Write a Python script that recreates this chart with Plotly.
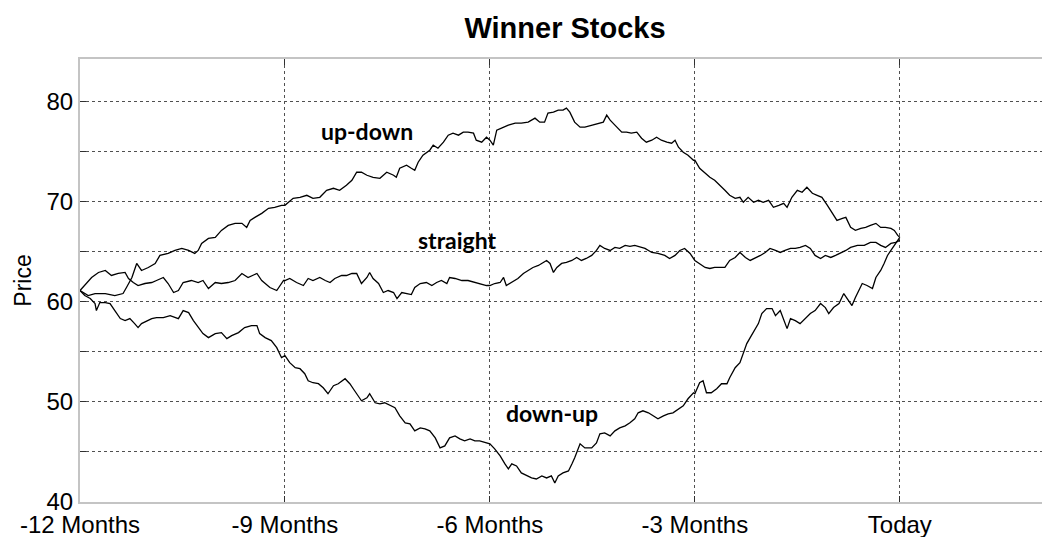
import plotly.graph_objects as go

# ===================================================================
# DATA (months relative to today)
# ===================================================================
updown_months = [
    -12.00, -11.88, -11.78, -11.63, -11.49, -11.37, -11.32, -11.24, -11.17, -11.10,
    -11.00, -10.90, -10.83, -10.71, -10.61, -10.51, -10.41, -10.32, -10.27, -10.22,
    -10.12, -10.02, -9.93, -9.83, -9.73, -9.63, -9.56, -9.51, -9.44, -9.34,
    -9.24, -9.15, -9.05,
    -9.00, -8.88, -8.78, -8.68, -8.59, -8.49, -8.39, -8.29, -8.20, -8.10,
    -8.02, -7.95, -7.88, -7.80, -7.71, -7.61, -7.51, -7.41, -7.37, -7.32,
    -7.22, -7.15, -7.10, -7.05, -6.98, -6.88, -6.83, -6.76, -6.68, -6.61,
    -6.54, -6.46, -6.39, -6.32, -6.24, -6.20, -6.12, -6.05,
    -6.00, -5.95, -5.90, -5.83, -5.73, -5.63, -5.54, -5.44, -5.34, -5.27,
    -5.20, -5.15, -5.07, -5.00, -4.93, -4.88, -4.83, -4.76, -4.68, -4.61,
    -4.51, -4.41, -4.34, -4.29, -4.24, -4.17, -4.07, -4.00, -3.93, -3.85,
    -3.78, -3.71, -3.63, -3.56, -3.49, -3.41, -3.34, -3.29, -3.24, -3.17,
    -3.10, -3.02,
    -3.00, -2.93, -2.85, -2.78, -2.71, -2.63, -2.56, -2.49, -2.41, -2.34,
    -2.29, -2.22, -2.14, -2.07, -2.00, -1.92, -1.85, -1.77, -1.70, -1.65,
    -1.58, -1.50, -1.43, -1.36, -1.28, -1.21, -1.14, -1.06, -0.99, -0.92,
    -0.84, -0.79, -0.72, -0.65, -0.57, -0.50, -0.43, -0.35, -0.28, -0.21,
    -0.13, -0.08, -0.03, 0.00,
]
updown_price = [
    61.1, 60.6, 60.8, 60.8, 60.6, 60.8, 61.4, 62.4, 63.8, 63.1,
    63.4, 63.8, 64.6, 64.8, 65.1, 65.3, 65.1, 64.8, 65.1, 65.8,
    66.3, 66.4, 67.1, 67.6, 67.8, 67.8, 67.4, 68.1, 68.4, 68.8,
    69.3, 69.4, 69.6,
    69.6, 70.3, 70.4, 70.6, 70.3, 70.4, 71.1, 71.3, 71.1, 71.6,
    72.1, 72.9, 72.9, 72.6, 72.4, 72.3, 72.9, 72.6, 72.4, 73.3,
    73.6, 73.3, 73.1, 73.9, 74.6, 75.1, 75.6, 75.3, 75.9, 76.6,
    76.8, 76.6, 76.9, 76.9, 76.8, 76.1, 75.9, 76.4,
    76.1, 75.6, 77.1, 77.3, 77.6, 77.8, 77.8, 77.9, 78.3, 77.9,
    77.9, 78.8, 78.9, 79.1, 79.1, 79.3, 78.9, 77.9, 77.4, 77.4,
    77.6, 77.8, 77.9, 78.6, 78.1, 77.6, 76.9, 76.9, 76.8, 76.9,
    76.3, 75.9, 76.1, 76.4, 76.1, 75.9, 75.8, 76.1, 75.4, 74.9,
    74.6, 74.1,
    74.1, 73.3, 72.8, 72.4, 72.1, 71.6, 71.1, 70.6, 70.3, 70.4,
    69.9, 70.4, 69.9, 70.1, 69.9, 70.1, 69.4, 69.6, 69.8, 69.4,
    70.4, 71.1, 70.9, 71.4, 70.8, 70.6, 70.4, 69.6, 68.8, 68.1,
    68.3, 68.4, 67.4, 67.1, 67.3, 67.4, 67.6, 67.8, 67.4, 67.4,
    67.3, 67.1, 66.6, 66.4,
]

straight_months = [
    -12.00, -11.83, -11.73, -11.63, -11.54, -11.44, -11.34, -11.29, -11.22, -11.15,
    -11.05, -10.95, -10.88, -10.78, -10.71, -10.63, -10.56, -10.49, -10.37, -10.27,
    -10.20, -10.12, -10.02, -9.93, -9.83, -9.73, -9.63, -9.54, -9.41, -9.34,
    -9.22, -9.12, -9.02,
    -9.00, -8.93, -8.83, -8.73, -8.66, -8.59, -8.49, -8.41, -8.34, -8.27,
    -8.17, -8.10, -8.02, -7.95, -7.88, -7.80, -7.76, -7.71, -7.63, -7.56,
    -7.49, -7.41, -7.36, -7.29, -7.22, -7.15, -7.10, -7.02, -6.93, -6.85,
    -6.78, -6.71, -6.63, -6.59, -6.51, -6.41, -6.32, -6.22, -6.15, -6.05,
    -6.00, -5.93, -5.85, -5.80, -5.76, -5.68, -5.59, -5.51, -5.44, -5.37,
    -5.29, -5.22, -5.17, -5.12, -5.07, -5.02, -4.95, -4.88, -4.80, -4.73,
    -4.66, -4.59, -4.51, -4.44, -4.39, -4.32, -4.24, -4.17, -4.10, -4.02,
    -3.95, -3.88, -3.80, -3.73, -3.63, -3.54, -3.44, -3.37, -3.29, -3.22,
    -3.15, -3.07,
    -3.00, -2.93, -2.85, -2.78, -2.71, -2.63, -2.56, -2.49, -2.41, -2.34,
    -2.26, -2.19, -2.12, -2.04, -1.97, -1.90, -1.82, -1.75, -1.68, -1.60,
    -1.53, -1.46, -1.38, -1.31, -1.24, -1.16, -1.09, -1.01, -0.94, -0.87,
    -0.79, -0.72, -0.62, -0.52, -0.43, -0.35, -0.28, -0.21, -0.13, -0.06,
    0.00,
]
straight_price = [
    61.1, 62.4, 62.9, 63.1, 62.6, 62.8, 62.9, 62.3, 61.9, 61.6,
    61.8, 61.9, 62.1, 62.4, 61.8, 60.9, 61.1, 61.9, 62.1, 61.9,
    62.1, 61.3, 61.9, 61.8, 61.9, 62.1, 62.8, 62.4, 62.8, 62.1,
    61.4, 61.1, 62.1,
    62.1, 62.3, 61.9, 61.6, 62.3, 62.1, 62.4, 62.1, 61.9, 62.3,
    62.6, 62.6, 62.8, 62.8, 61.8, 62.4, 62.9, 62.3, 61.8, 60.9,
    61.1, 60.9, 60.3, 60.9, 60.8, 60.7, 61.4, 61.8, 61.9, 61.6,
    61.9, 62.1, 61.8, 62.4, 62.3, 62.1, 62.1, 61.9, 61.8, 61.6,
    61.6, 61.8, 61.9, 62.4, 61.6, 61.9, 62.3, 62.8, 63.1, 63.4,
    63.6, 63.9, 64.1, 63.8, 62.9, 63.4, 63.8, 63.9, 64.1, 64.4,
    64.1, 64.3, 64.6, 65.1, 65.6, 65.3, 65.1, 65.4, 65.3, 65.6,
    65.5, 65.6, 65.4, 65.3, 64.9, 64.8, 64.6, 64.3, 64.6, 65.1,
    65.3, 64.8,
    64.1, 63.8, 63.4, 63.3, 63.4, 63.4, 63.4, 64.1, 64.4, 64.9,
    64.4, 64.1, 64.3, 64.6, 64.9, 65.3, 65.1, 64.9, 65.1, 65.3,
    65.3, 65.4, 65.6, 65.3, 64.6, 64.3, 64.6, 64.4, 64.6, 64.8,
    65.1, 65.4, 65.6, 65.6, 65.9, 65.9, 65.6, 65.4, 65.8, 65.9,
    66.1,
]

downup_months = [
    -12.00, -11.93, -11.85, -11.78, -11.76, -11.71, -11.63, -11.56, -11.49, -11.41,
    -11.34, -11.27, -11.20, -11.15, -11.10, -11.02, -10.95, -10.88, -10.78, -10.68,
    -10.61, -10.56, -10.49, -10.41, -10.34, -10.27, -10.20, -10.12, -10.02, -9.93,
    -9.85, -9.78, -9.68, -9.59, -9.49, -9.41, -9.37, -9.29, -9.20, -9.12,
    -9.05,
    -9.00, -8.93, -8.85, -8.78, -8.71, -8.66, -8.59, -8.51, -8.44, -8.37,
    -8.29, -8.22, -8.12, -8.05, -7.98, -7.88, -7.80, -7.76, -7.68, -7.61,
    -7.54, -7.46, -7.39, -7.32, -7.24, -7.17, -7.10, -7.02, -6.95, -6.88,
    -6.80, -6.73, -6.66, -6.59, -6.51, -6.44, -6.37, -6.29, -6.22, -6.15,
    -6.05,
    -6.00, -5.93, -5.85, -5.78, -5.73, -5.68, -5.61, -5.54, -5.46, -5.39,
    -5.32, -5.24, -5.17, -5.10, -5.05, -5.00, -4.93, -4.85, -4.80, -4.76,
    -4.68, -4.61, -4.51, -4.44, -4.39, -4.32, -4.24, -4.17, -4.10, -4.02,
    -3.95, -3.88, -3.83, -3.76, -3.68, -3.61, -3.54, -3.46, -3.39, -3.32,
    -3.24, -3.17, -3.10, -3.02,
    -3.00, -2.93, -2.88, -2.83, -2.76, -2.68, -2.61, -2.53, -2.49, -2.41,
    -2.34, -2.29, -2.24, -2.19, -2.12, -2.07, -2.02, -1.95, -1.87, -1.82,
    -1.75, -1.68, -1.65, -1.60, -1.53, -1.46, -1.38, -1.31, -1.24, -1.16,
    -1.09, -1.04, -0.97, -0.89, -0.82, -0.75, -0.70, -0.65, -0.60, -0.55,
    -0.48, -0.40, -0.35, -0.28, -0.23, -0.18, -0.13, -0.08, -0.03, 0.00,
]
downup_price = [
    61.1, 60.6, 60.3, 59.8, 59.1, 59.9, 59.9, 59.8, 59.1, 58.3,
    58.1, 58.3, 57.8, 57.4, 57.8, 58.1, 58.3, 58.4, 58.4, 58.6,
    58.4, 58.3, 59.1, 58.9, 58.1, 57.4, 56.8, 56.4, 56.8, 56.9,
    56.3, 56.6, 56.9, 57.4, 57.6, 57.6, 56.8, 56.4, 56.1, 55.4,
    54.4,
    54.6, 53.9, 53.4, 53.3, 52.8, 52.1, 51.9, 51.8, 51.4, 50.8,
    51.6, 51.8, 52.3, 51.8, 51.1, 50.1, 50.4, 50.8, 49.9, 49.8,
    49.9, 49.6, 49.4, 48.6, 47.9, 47.8, 47.1, 47.4, 47.3, 47.1,
    46.4, 45.4, 45.6, 46.4, 46.6, 46.3, 46.1, 46.3, 46.1, 46.1,
    45.9,
    45.8, 45.3, 44.6, 43.8, 43.3, 43.8, 43.6, 42.9, 42.6, 42.4,
    42.3, 42.6, 42.4, 42.6, 41.9, 42.6, 42.9, 43.1, 43.8, 44.4,
    45.8, 45.4, 45.4, 45.9, 46.8, 46.9, 46.6, 47.1, 47.4, 47.6,
    47.9, 48.3, 48.9, 49.1, 48.9, 48.6, 48.3, 48.6, 48.8, 48.9,
    49.3, 49.6, 50.3, 50.9,
    50.8, 51.9, 52.1, 50.9, 50.9, 51.3, 51.8, 51.8, 52.4, 53.4,
    53.9, 54.8, 55.8, 56.4, 57.3, 57.8, 58.8, 59.3, 59.3, 58.6,
    59.1, 57.8, 57.3, 58.3, 58.1, 57.8, 58.3, 58.8, 59.1, 59.8,
    59.4, 58.8, 59.4, 59.8, 60.8, 60.1, 59.6, 60.4, 61.1, 61.8,
    61.6, 61.3, 62.4, 63.1, 63.8, 64.6, 65.1, 65.6, 66.1, 66.4,
]

x_tickvals = [-12, -9, -6, -3, 0]
x_ticktext = ["-12 Months", "-9 Months", "-6 Months", "-3 Months", "Today"]
y_tickvals = [40, 45, 50, 55, 60, 65, 70, 75, 80]
y_ticktext = ["40", "", "50", "", "60", "", "70", "", "80"]

labels = ["up-down", "straight", "down-up"]
label_x = [-7.8, -6.47, -5.09]
label_y = [77.0, 66.1, 48.9]

# ===================================================================
# PLOT
# ===================================================================
fig = go.Figure()

for months, price, name in [
    (updown_months, updown_price, "up-down"),
    (straight_months, straight_price, "straight"),
    (downup_months, downup_price, "down-up"),
]:
    fig.add_trace(
        go.Scatter(
            x=months,
            y=price,
            mode="lines",
            name=name,
            line={"color": "black", "width": 1.3},
        )
    )

for text, lx, ly in zip(labels, label_x, label_y):
    fig.add_annotation(
        x=lx,
        y=ly,
        text=f"<b>{text}</b>",
        showarrow=False,
        font={"family": "Lato", "size": 23, "color": "black"},
    )

grid_style = dict(
    showgrid=True,
    gridcolor="#505050",
    gridwidth=1,
    griddash="dot",
    zeroline=False,
    showline=True,
    linecolor="#c4c4c4",
    linewidth=2,
    ticks="inside",
    ticklen=6,
    tickcolor="#303030",
    automargin=False,
)

# plot area runs 4px past the window on the right, so the cropped look of the
# original (no right-hand border) is kept
fig.update_xaxes(
    range=[-12, 2.14],
    tickvals=x_tickvals,
    ticktext=x_ticktext,
    mirror="ticks",
    tickfont={"family": "Liberation Sans", "size": 24, "color": "black"},
    **grid_style,
)
fig.update_yaxes(
    range=[40, 84.2],
    tickvals=y_tickvals,
    ticktext=y_ticktext,
    tickfont={"family": "Liberation Sans", "size": 24, "color": "black"},
    title={"text": "Price", "font": {"family": "Liberation Sans", "size": 23, "color": "black"}, "standoff": 8},
    **grid_style,
)

fig.update_layout(
    title={
        "text": "<b>Winner Stocks</b>",
        "x": 565 / 1046,
        "xref": "container",
        "y": 1 - 28 / 537,
        "yanchor": "middle",
        "font": {"family": "Liberation Sans", "size": 29, "color": "black"},
        "automargin": False,
    },
    width=1046,
    height=537,
    margin=dict(l=80, r=0, t=59, b=35),
    plot_bgcolor="white",
    paper_bgcolor="white",
    showlegend=False,
)

# page body has a default 8px margin; drop it so the figure sits at the corner
fig.write_html(
    "out.html",
    config={"displayModeBar": False},
    post_script="document.body.style.margin='0px';document.body.style.overflow='hidden';",
)
